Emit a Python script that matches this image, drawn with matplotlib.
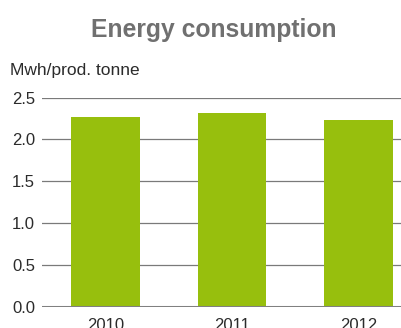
import matplotlib
matplotlib.use("Agg")
import matplotlib.pyplot as plt

years = ["2010", "2011", "2012"]
consumption = [2.27, 2.32, 2.23]
y_ticks = [0.0, 0.5, 1.0, 1.5, 2.0, 2.5]

BAR_COLOR = "#97bf0d"
GRID_COLOR = "#7a7a7a"
TEXT_COLOR = "#2b2b2b"

plt.rcParams["font.family"] = ["Liberation Sans", "DejaVu Sans"]

fig = plt.figure(figsize=(4.01, 3.28), dpi=100)
ax = fig.add_axes([0.1047, 0.0655, 0.8953, 0.6372])

x = list(range(len(years)))
ax.bar(x, consumption, width=0.545, color=BAR_COLOR, zorder=2)

# horizontal rules, heavier one at the baseline
for t in y_ticks[1:]:
    ax.axhline(t, color=GRID_COLOR, linewidth=0.9, zorder=1)
ax.axhline(0, color="#808080", linewidth=2.2, zorder=3)

ax.set_xlim(-0.502, 2.336)
ax.set_ylim(0, 2.5)
ax.set_yticks(y_ticks)
ax.set_yticklabels([f"{t:.1f}" for t in y_ticks])
ax.set_xticks(x)
ax.set_xticklabels(years)
ax.tick_params(axis="y", length=0, pad=5, labelsize=12, labelcolor=TEXT_COLOR)
ax.tick_params(axis="x", length=0, pad=8, labelsize=12, labelcolor=TEXT_COLOR)
for s in ax.spines.values():
    s.set_visible(False)

fig.text(0.534, 0.888, "Energy consumption", ha="center", va="baseline",
         fontsize=17.8, fontweight="bold", color="#707070")
fig.text(0.025, 0.772, "Mwh/prod. tonne", ha="left", va="baseline",
         fontsize=12.5, color=TEXT_COLOR)

fig.savefig("out.png", dpi=100)
